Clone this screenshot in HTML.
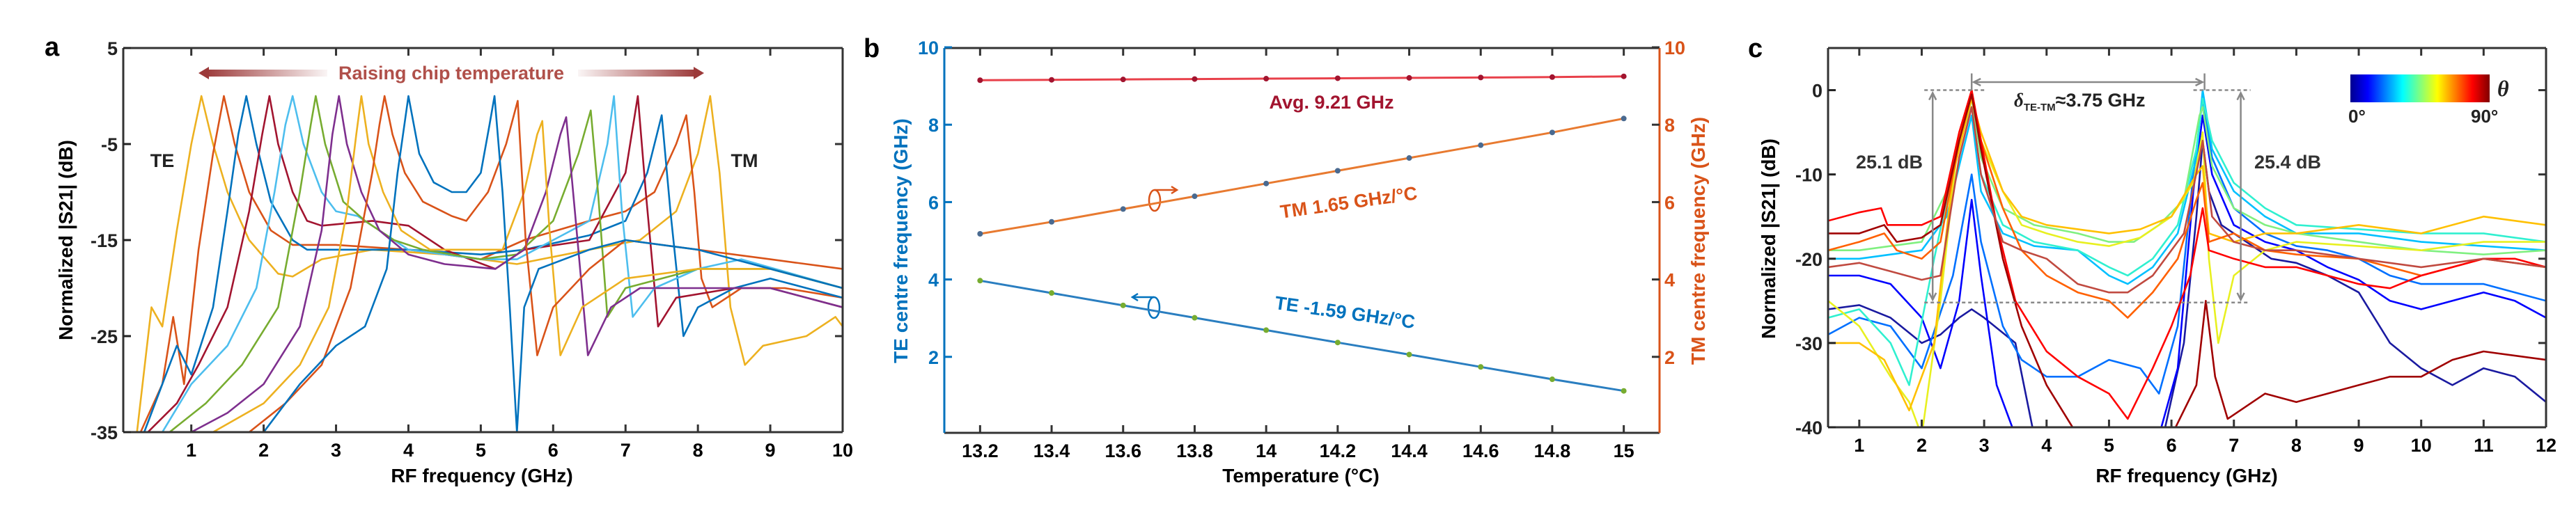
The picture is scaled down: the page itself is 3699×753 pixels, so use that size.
<!DOCTYPE html>
<html><head><meta charset="utf-8"><style>
html,body{margin:0;padding:0;background:#fff;}
svg{display:block;font-family:"Liberation Sans",Arial,sans-serif;font-weight:bold;}
</style></head><body>
<svg id="fig" xmlns="http://www.w3.org/2000/svg" width="3699" height="753" viewBox="0 0 3699 753">
<defs>
<linearGradient id="arrL" x1="0" x2="1" y1="0" y2="0"><stop offset="0" stop-color="#9c3a3a"/><stop offset="1" stop-color="#9c3a3a" stop-opacity="0.05"/></linearGradient>
<linearGradient id="arrR" x1="0" x2="1" y1="0" y2="0"><stop offset="0" stop-color="#9c3a3a" stop-opacity="0.05"/><stop offset="1" stop-color="#9c3a3a"/></linearGradient>
<linearGradient id="jet" x1="0" x2="1" y1="0" y2="0"><stop offset="0" stop-color="#00008F"/><stop offset="0.125" stop-color="#0000FF"/><stop offset="0.375" stop-color="#00FFFF"/><stop offset="0.625" stop-color="#FFFF00"/><stop offset="0.875" stop-color="#FF0000"/><stop offset="1" stop-color="#800000"/></linearGradient>
<clipPath id="clipA"><rect x="177" y="69" width="1033" height="552"/></clipPath>
<clipPath id="clipC"><rect x="2625" y="69" width="1031" height="545"/></clipPath>
</defs>

<!-- Panel a static text -->
<text x="64" y="80" font-size="38">a</text>
<text x="692" y="693" font-size="28" text-anchor="middle">RF frequency (GHz)</text>
<text transform="translate(104,345) rotate(-90)" font-size="28" text-anchor="middle">Normalized |S21| (dB)</text>
<g>
<rect x="295" y="100" width="175" height="10" fill="url(#arrL)"/>
<polygon points="285,105 300,96 300,114" fill="#9c3a3a"/>
<rect x="830" y="100" width="171" height="10" fill="url(#arrR)"/>
<polygon points="1011,105 996,96 996,114" fill="#9c3a3a"/>
<text x="648" y="114" font-size="27" text-anchor="middle" fill="#b0504a">Raising chip temperature</text>
</g>
<text x="233" y="240" font-size="27" text-anchor="middle" fill="#222">TE</text>
<text x="1069" y="240" font-size="27" text-anchor="middle" fill="#222">TM</text>

<!-- Panel b static text -->
<text x="1240" y="82" font-size="38">b</text>
<text x="1868" y="693" font-size="28" text-anchor="middle">Temperature (°C)</text>
<text transform="translate(1303,346) rotate(-90)" font-size="28" text-anchor="middle" fill="#0072BD">TE centre frequency (GHz)</text>
<text transform="translate(2448,346) rotate(-90)" font-size="28" text-anchor="middle" fill="#D95319">TM centre frequency (GHz)</text>
<text x="1912" y="156" font-size="27" text-anchor="middle" fill="#A2142F">Avg.  9.21 GHz</text>
<text transform="translate(1938,300) rotate(-8)" font-size="27" text-anchor="middle" fill="#D95319">TM  1.65 GHz/°C</text>
<text transform="translate(1930,458) rotate(8)" font-size="27" text-anchor="middle" fill="#0072BD">TE  -1.59 GHz/°C</text>
<g fill="none" stroke="#D95319" stroke-width="2.5">
<ellipse cx="1658" cy="288" rx="8" ry="15"/><line x1="1658" y1="273" x2="1690" y2="273"/><polyline points="1682,268 1690,273 1682,278"/>
</g>
<g fill="none" stroke="#0072BD" stroke-width="2.5">
<ellipse cx="1657" cy="442" rx="8" ry="15"/><line x1="1657" y1="427" x2="1626" y2="427"/><polyline points="1634,422 1626,427 1634,432"/>
</g>

<!-- Panel c static text -->
<text x="2510" y="82" font-size="38">c</text>
<text x="3140" y="693" font-size="28" text-anchor="middle">RF frequency (GHz)</text>
<text transform="translate(2549,343) rotate(-90)" font-size="28" text-anchor="middle">Normalized |S21| (dB)</text>
</svg>
<script>
const NS = 'http://www.w3.org/2000/svg';
const svg = document.getElementById('fig');
function add(parent, tag, attrs) {
  const el = document.createElementNS(NS, tag);
  for (const k in attrs) el.setAttribute(k, attrs[k]);
  parent.appendChild(el);
  return el;
}

/* ---------- Panel a data ---------- */
const xTicksA = [1,2,3,4,5,6,7,8,9,10];
const yTicksA = [5,-5,-15,-25,-35];
const colorsA = ['#EDB120','#D95319','#0072BD','#A2142F','#4DBEEE','#77AC30','#7E2F8E','#EDB120','#D95319','#0072BD'];
const spectraA = [
 [[0.25,-35],[0.45,-22],[0.6,-24],[0.8,-14],[1.0,-5],[1.14,0],[1.3,-5],[1.5,-10],[1.8,-15],[2.2,-18.5],[2.4,-18.8],[2.8,-17],[3.5,-16],[4.5,-16.5],[5.5,-17.5],[6.5,-16],[7.2,-15],[7.7,-12],[8.0,-6],[8.17,0],[8.3,-8],[8.45,-22],[8.65,-28],[8.9,-26],[9.5,-25],[9.9,-23],[10,-24]],
 [[0.3,-35],[0.6,-30],[0.75,-23],[0.9,-30],[1.1,-16],[1.3,-6],[1.45,0],[1.6,-5],[1.8,-10],[2.1,-14],[2.4,-15.5],[3.0,-15.5],[4.0,-16],[5.0,-17],[5.6,-15],[6.5,-13],[7.0,-12],[7.4,-10],[7.7,-5],[7.84,-2],[7.95,-10],[8.05,-19],[8.2,-22],[8.6,-20],[9.2,-20],[10,-21]],
 [[0.35,-35],[0.6,-30],[0.8,-26],[1.0,-29],[1.3,-22],[1.5,-12],[1.65,-4],[1.76,0],[1.9,-5],[2.1,-11],[2.4,-15],[2.6,-16],[3.0,-16],[4.0,-16],[5.0,-16.5],[5.6,-16],[6.5,-14.5],[7.0,-13],[7.3,-8],[7.5,-2],[7.62,-12],[7.8,-25],[8.0,-22],[8.5,-20],[9.0,-19],[10,-21]],
 [[0.4,-35],[0.8,-32],[1.1,-28],[1.5,-22],[1.8,-12],[1.98,-4],[2.08,0],[2.2,-5],[2.4,-10],[2.6,-13],[2.8,-13.5],[3.5,-13],[4.0,-13.5],[4.5,-16],[5.2,-18],[5.6,-16],[6.5,-15],[7.0,-8],[7.17,0],[7.28,-10],[7.45,-24],[7.7,-21],[8.5,-20],[9.0,-20],[10,-22]],
 [[0.6,-35],[1.0,-30],[1.5,-26],[1.9,-20],[2.15,-10],[2.3,-3],[2.4,0],[2.55,-5],[2.8,-10],[3.0,-12],[3.3,-12.5],[3.6,-14],[4.0,-16],[5.0,-17],[5.5,-17],[6.0,-15],[6.5,-13],[6.75,-5],[6.84,0],[6.95,-12],[7.1,-23],[7.4,-20],[8.0,-18],[8.6,-17],[10,-20]],
 [[0.7,-35],[1.2,-32],[1.7,-28],[2.2,-22],[2.5,-10],[2.65,-3],[2.72,0],[2.85,-5],[3.1,-11],[3.4,-13],[3.8,-15],[4.2,-16],[5.0,-17],[5.5,-16.5],[6.0,-13],[6.35,-6],[6.52,-1.5],[6.62,-10],[6.75,-23],[7.0,-20],[8.0,-18],[9.0,-18],[10,-20]],
 [[1.0,-35],[1.5,-33],[2.0,-30],[2.5,-24],[2.8,-14],[2.95,-4],[3.04,0],[3.15,-5],[3.35,-10],[3.6,-14],[4.0,-16.5],[4.5,-17.5],[5.2,-18],[5.6,-16],[5.9,-10],[6.1,-4],[6.18,-2.2],[6.3,-12],[6.48,-27],[6.8,-22],[7.2,-20],[8.0,-20],[9.0,-20],[10,-22]],
 [[1.3,-35],[2.0,-32],[2.5,-28],[2.9,-22],[3.15,-12],[3.28,-4],[3.35,0],[3.45,-5],[3.65,-10],[3.9,-14],[4.3,-16],[4.8,-16],[5.3,-16],[5.6,-10],[5.78,-4],[5.85,-2.6],[5.95,-14],[6.1,-27],[6.4,-22],[7.0,-19],[8.0,-18],[9.0,-18],[10,-20]],
 [[1.8,-35],[2.3,-32],[2.8,-28],[3.2,-20],[3.5,-8],[3.6,-3],[3.67,0],[3.78,-4],[3.95,-8],[4.2,-11],[4.6,-12.5],[4.8,-13],[5.1,-10],[5.35,-5],[5.51,-0.5],[5.62,-15],[5.78,-27],[6.0,-22],[6.5,-18],[7.0,-15],[8.0,-16],[9.0,-17],[10,-18]],
 [[2.0,-35],[2.5,-30],[3.0,-26],[3.4,-24],[3.7,-18],[3.85,-8],[4.0,0],[4.15,-6],[4.35,-9],[4.6,-10],[4.8,-10],[5.0,-8],[5.12,-3],[5.19,0],[5.3,-10],[5.4,-22],[5.5,-35],[5.6,-22],[5.8,-18],[6.5,-16],[7.0,-15],[8.0,-16],[9.0,-18],[10,-20]]
];

/* ---------- Panel b data ---------- */
const tempsB = [13.2,13.4,13.6,13.8,14.0,14.2,14.4,14.6,14.8,15.0];
const teFreqB = [3.97,3.65,3.33,3.01,2.69,2.37,2.06,1.74,1.42,1.12];
const tmFreqB = [5.18,5.49,5.82,6.15,6.48,6.81,7.14,7.47,7.80,8.16];
const avgFreqB = [9.15,9.16,9.17,9.18,9.19,9.20,9.21,9.22,9.23,9.25];
const xTickLabelsB = ['13.2','13.4','13.6','13.8','14','14.2','14.4','14.6','14.8','15'];
const yTicksB = [2,4,6,8,10];

/* ---------- Panel c data ---------- */
const xTicksC = [1,2,3,4,5,6,7,8,9,10,11,12];
const yTicksC = [0,-10,-20,-30,-40];
const anglesC = ['0','10','20','30','40','50','60','70','75','80','90','85'];
const colorsC = ['#1a1aa0','#0000ff','#0070ff','#00c0ff','#30f0d0','#80f080','#e8f020','#ffc000','#ff6000','#ff0000','#a00000','#c04a40'];
const spectraC = [
 [[0.5,-26],[1.0,-25.5],[1.5,-27],[2.0,-30],[2.3,-29],[2.6,-27],[2.8,-26],[3.0,-27],[3.5,-30],[3.8,-41],[5.8,-41],[5.9,-40],[6.2,-30],[6.4,-15],[6.5,-6],[6.6,-12],[6.8,-16],[7.2,-18],[7.6,-20],[8.0,-20.5],[8.5,-22],[9.0,-24],[9.5,-30],[10,-33],[10.5,-35],[11,-33],[11.5,-34],[12,-37]],
 [[0.5,-22],[1,-22],[1.5,-23],[2.0,-27],[2.3,-33],[2.6,-25],[2.8,-13],[2.95,-22],[3.2,-35],[3.5,-41],[5.8,-41],[6.1,-33],[6.35,-12],[6.5,-3],[6.65,-10],[7.0,-16],[7.5,-18],[8.0,-19],[8.5,-21],[9.0,-22.5],[9.5,-25],[10,-26],[10.5,-25],[11,-24],[11.5,-25],[12,-27]],
 [[0.5,-29],[1,-27],[1.5,-28],[2.0,-33],[2.5,-22],[2.8,-10],[2.95,-18],[3.3,-28],[3.6,-32],[4.0,-34],[4.5,-34],[5.0,-32],[5.5,-33],[5.8,-36],[6.1,-28],[6.35,-10],[6.5,-1],[6.65,-8],[7.0,-14],[7.5,-17],[8.0,-18.5],[8.5,-19],[9.0,-20],[9.5,-22],[10,-23],[11,-23],[11.5,-24],[12,-25]],
 [[0.5,-20],[1,-20],[1.5,-19.5],[2.0,-19],[2.4,-15],[2.7,-6],[2.8,-3],[2.95,-12],[3.3,-17],[3.8,-18.5],[4.5,-19],[5.0,-22],[5.3,-23],[5.7,-21],[6.1,-17],[6.4,-8],[6.5,0],[6.65,-7],[7.0,-12],[7.5,-15],[8.0,-17],[9.0,-17],[10,-18],[11,-18.5],[12,-19]],
 [[0.5,-27],[1,-26],[1.5,-30],[1.8,-35],[2.2,-20],[2.6,-6],[2.8,-2],[2.95,-10],[3.3,-16],[3.8,-18],[4.5,-19],[5.0,-21],[5.3,-22],[5.7,-20],[6.1,-16],[6.4,-7],[6.5,-1],[6.65,-6],[7.0,-11],[7.5,-14],[8.0,-16],[9.0,-16.5],[10,-17],[11,-17],[12,-18]],
 [[0.5,-19],[1,-19],[1.5,-18.5],[2.0,-18],[2.4,-12],[2.7,-4],[2.8,-1],[2.95,-8],[3.3,-14],[3.8,-16],[4.5,-17],[5.0,-18],[5.4,-18],[5.8,-16],[6.2,-13],[6.45,-3],[6.5,-2],[6.65,-9],[7.0,-14],[7.5,-16],[8.0,-17],[9.0,-18],[10,-19],[11,-19.5],[12,-19]],
 [[0.5,-25],[1,-28],[1.5,-34],[1.8,-37],[2.0,-41],[2.3,-25],[2.6,-5],[2.8,-1],[2.95,-6],[3.3,-12],[3.6,-16],[4.0,-17],[4.5,-18],[5.0,-18.5],[5.5,-17.5],[6.0,-15],[6.35,-11],[6.5,-5],[6.6,-20],[6.75,-30],[7.0,-22],[7.5,-19],[8.0,-18],[9.0,-18.5],[10,-19],[11,-18],[12,-18]],
 [[0.5,-30],[1,-30],[1.4,-32],[1.8,-38],[2.2,-30],[2.5,-10],[2.8,-1],[2.95,-5],[3.3,-12],[3.6,-15],[4.0,-16],[4.5,-16.5],[5.0,-17],[5.5,-16.5],[6.0,-15],[6.4,-10],[6.5,-9],[6.6,-17],[7.0,-18],[7.5,-17],[8.0,-17],[9.0,-16],[10,-17],[11,-15],[12,-16]],
 [[0.5,-19],[1,-18],[1.4,-17],[1.6,-19],[2.0,-20],[2.3,-18],[2.6,-6],[2.8,0],[2.95,-6],[3.3,-14],[3.6,-19],[4.0,-22],[4.5,-24],[5.0,-25],[5.3,-27],[5.7,-24],[6.1,-20],[6.4,-13],[6.5,-11],[6.6,-18],[7.0,-17],[7.5,-19],[8.0,-19.5],[9.0,-20],[10,-22],[11,-20],[12,-21]],
 [[0.5,-15.5],[1,-14.5],[1.35,-14],[1.45,-16],[2.0,-16],[2.3,-15],[2.6,-5],[2.8,0],[2.95,-6],[3.2,-16],[3.5,-25],[4.0,-31],[4.5,-34],[5.0,-36],[5.3,-39],[5.7,-33],[6.0,-28],[6.3,-22],[6.5,-14],[6.6,-19],[7.0,-20],[7.5,-21],[8.0,-21],[8.5,-22],[9.0,-23],[9.5,-23.5],[10,-22],[11,-20],[11.5,-20],[12,-21]],
 [[0.5,-17],[1,-17],[1.4,-16],[1.6,-18],[2.0,-17.5],[2.3,-16],[2.6,-6],[2.8,-0.5],[2.95,-7],[3.3,-20],[3.6,-28],[4.0,-35],[4.5,-41],[6.0,-41],[6.4,-35],[6.55,-25],[6.7,-34],[6.9,-39],[7.5,-36],[8.0,-37],[8.5,-36],[9.0,-35],[9.5,-34],[10,-34],[10.5,-32],[11,-31],[11.5,-31.5],[12,-32]],
 [[0.5,-21],[1,-20.5],[1.5,-21.5],[2.0,-22.5],[2.3,-22],[2.6,-8],[2.8,-2],[2.95,-10],[3.3,-18],[3.6,-19],[4.0,-20],[4.5,-23],[5.0,-24],[5.3,-24],[5.7,-22],[6.2,-17],[6.45,-8],[6.5,-6],[6.65,-15],[7.0,-18],[7.5,-19],[8.0,-19],[9.0,-20],[10,-21],[11,-20],[12,-21]]
];
const peakTE_C = 2.80;
const peakTM_C = 6.53;
const extinctionLevelC = -25.2;

/* ---------- axis functions ---------- */
const xA = f => 177 + (f - 0.06) / (10 - 0.06) * 1033;
const yA = d => 69 + (5 - d) / 40 * 552;
const xB = t => 1356 + (t - 13.1) / 2.0 * 1027;
const yB = v => 624 - v / 10 * 556;
const xC = f => 2625 + (f - 0.5) / 11.5 * 1031;
const yC = d => 69 + (5 - d) / 45 * 545;

function frame(L, T, R, B, name, leftColor, rightColor) {
  const g = add(svg, 'g', {});
  
  
  const top = add(g, 'line', {x1: L, y1: T, x2: R, y2: T, stroke: '#333', 'stroke-width': 3});
  
  
  const bot = add(g, 'line', {x1: L, y1: B, x2: R, y2: B, stroke: '#333', 'stroke-width': 3});
  
  
  const lft = add(g, 'line', {x1: L, y1: T, x2: L, y2: B, stroke: leftColor, 'stroke-width': 3});
  
  
  const rgt = add(g, 'line', {x1: R, y1: T, x2: R, y2: B, stroke: rightColor, 'stroke-width': 3});
  
  
  return g;
}
function xTick(g, x, T, B, label, name) {
  const t1 = add(g, 'line', {x1: x, y1: B, x2: x, y2: B - 11, stroke: '#333', 'stroke-width': 3});
  
  
  const t2 = add(g, 'line', {x1: x, y1: T, x2: x, y2: T + 11, stroke: '#333', 'stroke-width': 3});
  
  
  const tx = add(g, 'text', {x: x, y: B + 35, 'font-size': 27, 'text-anchor': 'middle'});
  tx.textContent = label;
  
  
}
function yTick(g, y, L, R, label, name, color, side) {
  const t1 = add(g, 'line', {x1: L, y1: y, x2: L + 11, y2: y, stroke: side === 'right' ? '#333' : color, 'stroke-width': 3});
  
  
  const t2 = add(g, 'line', {x1: R, y1: y, x2: R - 11, y2: y, stroke: side === 'right' ? color : '#333', 'stroke-width': 3});
  
  
  if (side === 'right') {
    const tx = add(g, 'text', {x: R + 6, y: y + 10, 'font-size': 27, fill: color});
    tx.textContent = label;
    
    
  } else {
    const tx = add(g, 'text', {x: L - 8, y: y + 10, 'font-size': 27, 'text-anchor': 'end', fill: color});
    tx.textContent = label;
    
    
  }
}
function pathFrom(pts, xf, yf) {
  return pts.map((p, i) => (i ? 'L' : 'M') + xf(p[0]).toFixed(1) + ',' + yf(p[1]).toFixed(1)).join(' ');
}

/* ---------- Panel a ---------- */
const gA = add(svg, 'g', {'clip-path': 'url(#clipA)'});


spectraA.forEach((pts, i) => {
  const p = add(gA, 'path', {d: pathFrom(pts, xA, yA), fill: 'none', stroke: colorsA[i], 'stroke-width': 2.6, 'stroke-linejoin': 'round'});
  
  
});
const fA = frame(177, 69, 1210, 621, 'panel-a', '#333', '#333');
xTicksA.forEach(v => xTick(fA, xA(v), 69, 621, String(v), 'panel-a'));
yTicksA.forEach(v => yTick(fA, yA(v), 177, 1210, String(v), 'panel-a', '#222', 'left'));

/* ---------- Panel b ---------- */
const gB = add(svg, 'g', {});


function seriesB(vals, lineColor, markColor, name) {
  const pts = tempsB.map((t, i) => [t, vals[i]]);
  const p = add(gB, 'path', {d: pathFrom(pts, xB, yB), fill: 'none', stroke: lineColor, 'stroke-width': 3});
  
  
  pts.forEach(q => {
    const c = add(gB, 'circle', {cx: xB(q[0]), cy: yB(q[1]), r: 4, fill: markColor});
    
    
  });
}
seriesB(avgFreqB, '#E8404A', '#A2142F', 'avg-series');
seriesB(tmFreqB, '#E87A30', '#4a6a90', 'tm-series');
seriesB(teFreqB, '#2a7ec0', '#77AC30', 'te-series');
const fB = frame(1356, 69, 2383, 622, 'panel-b', '#0072BD', '#D95319');
tempsB.forEach((t, i) => xTick(fB, xB(t), 69, 622, xTickLabelsB[i], 'panel-b'));
yTicksB.forEach(v => yTick(fB, yB(v), 1356, 2383, String(v), 'panel-b-te', '#0072BD', 'left'));
yTicksB.forEach(v => {
  const tx = add(fB, 'text', {x: 2390, y: yB(v) + 10, 'font-size': 27, fill: '#D95319'});
  tx.textContent = String(v);
  
  
});

/* ---------- Panel c ---------- */
const gC = add(svg, 'g', {'clip-path': 'url(#clipC)'});


spectraC.forEach((pts, i) => {
  const p = add(gC, 'path', {d: pathFrom(pts, xC, yC), fill: 'none', stroke: colorsC[i], 'stroke-width': 2.6, 'stroke-linejoin': 'round'});
  
  
});
const fC = frame(2625, 69, 3656, 614, 'panel-c', '#333', '#333');
xTicksC.forEach(v => xTick(fC, xC(v), 69, 614, String(v), 'panel-c'));
yTicksC.forEach(v => yTick(fC, yC(v), 2625, 3656, String(v), 'panel-c', '#222', 'left'));

/* annotations panel c */
const gAnn = add(svg, 'g', {stroke: '#888', 'stroke-width': 2.5, fill: 'none'});


const xL = xC(peakTE_C), xR = xC(peakTM_C), y0 = yC(0), yE = yC(extinctionLevelC);
const d1 = add(gAnn, 'line', {x1: xL - 68, y1: y0, x2: xL + 18, y2: y0, 'stroke-dasharray': '5,4'});


const d2 = add(gAnn, 'line', {x1: xR - 16, y1: y0, x2: xR + 66, y2: y0, 'stroke-dasharray': '5,4'});


const d3 = add(gAnn, 'line', {x1: xL - 68, y1: yE, x2: xR + 62, y2: yE, 'stroke-dasharray': '5,4'});


const vL = add(gAnn, 'path', {d: `M${xL-56},${y0+4} L${xL-56},${yE-4} M${xL-61},${y0+14} L${xL-56},${y0+4} L${xL-51},${y0+14} M${xL-61},${yE-14} L${xL-56},${yE-4} L${xL-51},${yE-14}`});


const vR = add(gAnn, 'path', {d: `M${xR+52},${y0+4} L${xR+52},${yE-4} M${xR+47},${y0+14} L${xR+52},${y0+4} L${xR+57},${y0+14} M${xR+47},${yE-14} L${xR+52},${yE-4} L${xR+57},${yE-14}`});


const hA = add(gAnn, 'path', {d: `M${xL},${y0-24} L${xL},${y0} M${xR},${y0-24} L${xR},${y0} M${xL+3},118 L${xR-3},118 M${xL+13},113 L${xL+3},118 L${xL+13},123 M${xR-13},113 L${xR-3},118 L${xR-13},123`});


const t251 = add(svg, 'text', {x: 2713, y: 242, 'font-size': 27, 'text-anchor': 'middle', fill: '#333'});
t251.textContent = '25.1 dB';


const t254 = add(svg, 'text', {x: 3285, y: 242, 'font-size': 27, 'text-anchor': 'middle', fill: '#333'});
t254.textContent = '25.4 dB';


const tSplit = add(svg, 'text', {x: 2892, y: 153, 'font-size': 27, fill: '#222'});
tSplit.innerHTML = '<tspan font-style="italic" font-family="Liberation Serif, serif">δ</tspan><tspan font-size="15" dy="6">TE-TM</tspan><tspan dy="-6">≈3.75 GHz</tspan>';



/* colorbar */
const cb = add(svg, 'rect', {x: 3375, y: 107, width: 200, height: 40, fill: 'url(#jet)'});


const cb0 = add(svg, 'text', {x: 3372, y: 176, 'font-size': 26, fill: '#222'});
cb0.textContent = '0°';


const cb90 = add(svg, 'text', {x: 3548, y: 176, 'font-size': 26, fill: '#222'});
cb90.textContent = '90°';


const th = add(svg, 'text', {x: 3586, y: 138, 'font-size': 32, 'font-style': 'italic', 'font-family': 'Liberation Serif, serif', fill: '#222'});
th.textContent = 'θ';


</script>
</body></html>
